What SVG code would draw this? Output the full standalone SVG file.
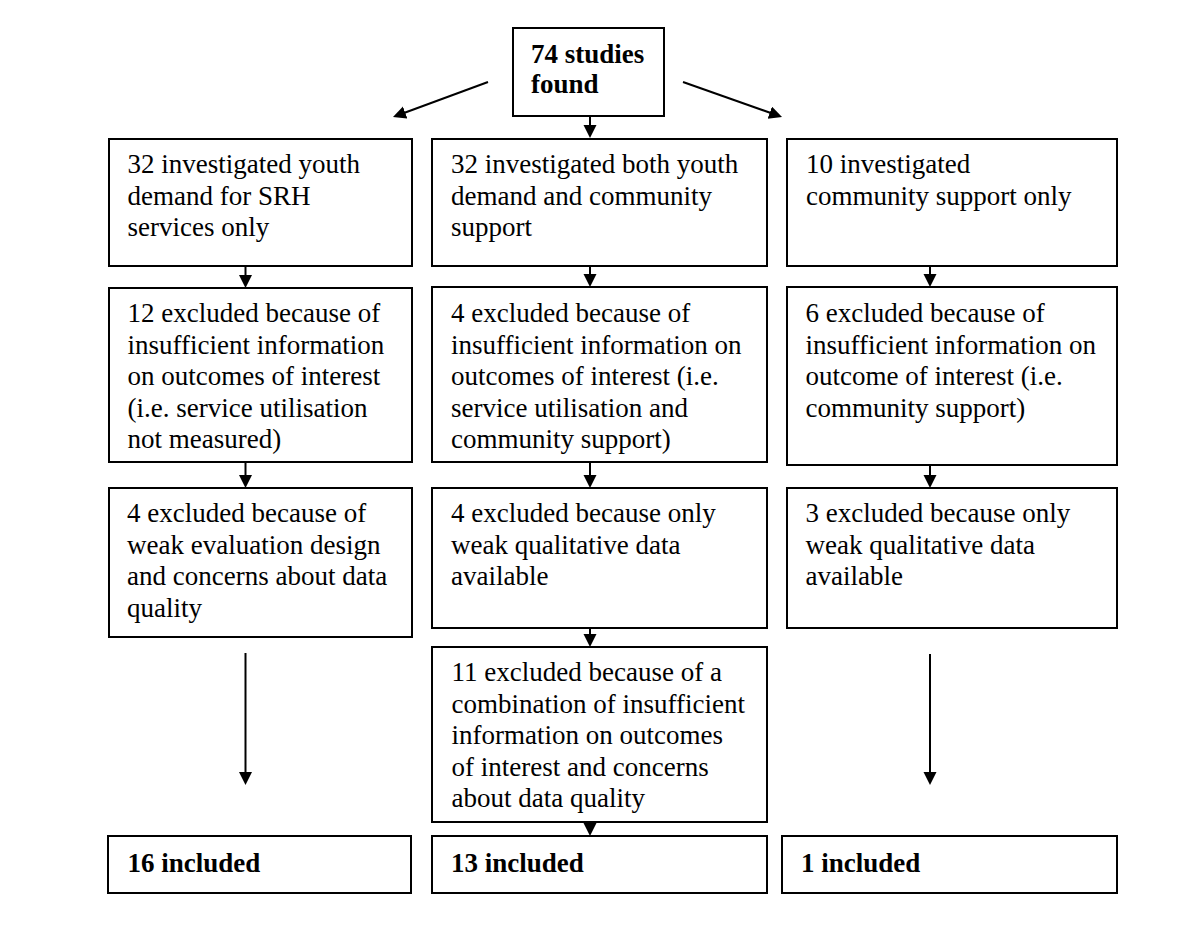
<svg xmlns="http://www.w3.org/2000/svg" width="1200" height="928" viewBox="0 0 1200 928">
<defs>
<style>
.box{fill:#fff;stroke:#000;stroke-width:2}
.t{font-family:"Liberation Serif","Times New Roman",serif;font-size:27px;fill:#000}
.b{font-weight:bold}
.c{stroke:#000;stroke-width:2;fill:none;marker-end:url(#ah)}
</style>
<marker id="ah" markerUnits="userSpaceOnUse" markerWidth="14" markerHeight="14" refX="10" refY="6.5" orient="auto">
<path d="M0,0 L13,6.5 L0,13 z" fill="#000"/>
</marker>
</defs>
<rect width="1200" height="928" fill="#fff"/>

<g id="connectors">
<line class="c" x1="488" y1="82" x2="395.8" y2="116"/>
<line class="c" x1="683" y1="82" x2="779.2" y2="116"/>
<line class="c" x1="590" y1="116" x2="590" y2="135"/>
<line class="c" x1="245.5" y1="266" x2="245.5" y2="285"/>
<line class="c" x1="245.5" y1="462" x2="245.5" y2="485"/>
<line class="c" x1="245.5" y1="653" x2="245.5" y2="782"/>
<line class="c" x1="590" y1="266" x2="590" y2="284"/>
<line class="c" x1="590" y1="462" x2="590" y2="485"/>
<line class="c" x1="590" y1="628" x2="590" y2="644"/>
<line class="c" x1="590" y1="813" x2="590" y2="833"/>
<line class="c" x1="930" y1="266" x2="930" y2="284"/>
<line class="c" x1="930" y1="465" x2="930" y2="485"/>
<line class="c" x1="930" y1="654" x2="930" y2="782"/>
</g>

<g id="n-top">
<rect class="box" x="513" y="28" width="151" height="88"/>
<text class="t b"><tspan x="531" y="63">74 studies</tspan><tspan x="531" y="93">found</tspan></text>
</g>

<g id="n-youth">
<rect class="box" x="109" y="139" width="303" height="127"/>
<text class="t"><tspan x="127.5" y="173">32 investigated youth</tspan><tspan x="127.5" y="204.5">demand for SRH</tspan><tspan x="127.5" y="236">services only</tspan></text>
</g>
<g id="n-both">
<rect class="box" x="432" y="139" width="335" height="127"/>
<text class="t"><tspan x="451" y="173">32 investigated both youth</tspan><tspan x="451" y="204.5">demand and community</tspan><tspan x="451" y="236">support</tspan></text>
</g>
<g id="n-community">
<rect class="box" x="787" y="139" width="330" height="127"/>
<text class="t"><tspan x="806" y="173">10 investigated</tspan><tspan x="806" y="204.5">community support only</tspan></text>
</g>

<g id="n-excl12">
<rect class="box" x="109" y="288" width="303" height="174"/>
<text class="t"><tspan x="127.5" y="322">12 excluded because of</tspan><tspan x="127.5" y="353.5">insufficient information</tspan><tspan x="127.5" y="385">on outcomes of interest</tspan><tspan x="127.5" y="416.5">(i.e. service utilisation</tspan><tspan x="127.5" y="448">not measured)</tspan></text>
</g>
<g id="n-excl4a">
<rect class="box" x="432" y="287" width="335" height="175"/>
<text class="t"><tspan x="451" y="322">4 excluded because of</tspan><tspan x="451" y="353.5">insufficient information on</tspan><tspan x="451" y="385">outcomes of interest (i.e.</tspan><tspan x="451" y="416.5">service utilisation and</tspan><tspan x="451" y="448">community support)</tspan></text>
</g>
<g id="n-excl6">
<rect class="box" x="787" y="287" width="330" height="178"/>
<text class="t"><tspan x="805.5" y="322">6 excluded because of</tspan><tspan x="805.5" y="353.5">insufficient information on</tspan><tspan x="805.5" y="385">outcome of interest (i.e.</tspan><tspan x="805.5" y="416.5">community support)</tspan></text>
</g>

<g id="n-excl4b">
<rect class="box" x="109" y="488" width="303" height="149"/>
<text class="t"><tspan x="127" y="522">4 excluded because of</tspan><tspan x="127" y="553.5">weak evaluation design</tspan><tspan x="127" y="585">and concerns about data</tspan><tspan x="127" y="616.5">quality</tspan></text>
</g>
<g id="n-excl4c">
<rect class="box" x="432" y="488" width="335" height="140"/>
<text class="t"><tspan x="451" y="522">4 excluded because only</tspan><tspan x="451" y="553.5">weak qualitative data</tspan><tspan x="451" y="585">available</tspan></text>
</g>
<g id="n-excl3">
<rect class="box" x="787" y="488" width="330" height="140"/>
<text class="t"><tspan x="805.5" y="522">3 excluded because only</tspan><tspan x="805.5" y="553.5">weak qualitative data</tspan><tspan x="805.5" y="585">available</tspan></text>
</g>

<g id="n-excl11">
<rect class="box" x="432" y="647" width="335" height="175"/>
<text class="t"><tspan x="451.5" y="681">11 excluded because of a</tspan><tspan x="451.5" y="712.5">combination of insufficient</tspan><tspan x="451.5" y="744">information on outcomes</tspan><tspan x="451.5" y="775.5">of interest and concerns</tspan><tspan x="451.5" y="807">about data quality</tspan></text>
</g>

<g id="n-inc16">
<rect class="box" x="108" y="836" width="303" height="57"/>
<text class="t b" x="127.5" y="872">16 included</text>
</g>
<g id="n-inc13">
<rect class="box" x="432" y="836" width="335" height="57"/>
<text class="t b" x="451" y="872">13 included</text>
</g>
<g id="n-inc1">
<rect class="box" x="782" y="836" width="335" height="57"/>
<text class="t b" x="801" y="872">1 included</text>
</g>
</svg>
